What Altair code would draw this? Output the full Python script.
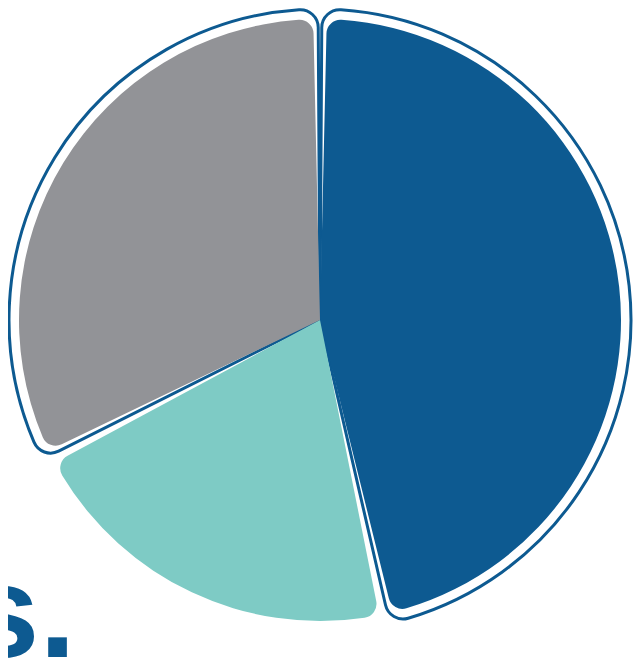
import altair as alt
import pandas as pd

categories = ["A", "B", "C"]
values = [46.5, 21.0, 32.5]
colors = ["#0d5a91", "#7ecbc5", "#929397"]
outlined = [1, 0, 1]
label_text = ["s."]

df = pd.DataFrame({"cat": categories, "value": values, "order": [0, 1, 2], "outlined": outlined})

cx, cy = 312, 312

base = alt.Chart(df).encode(
    theta=alt.Theta("value:Q", stack=True),
    order=alt.Order("order:Q"),
    x=alt.value(cx),
    y=alt.value(cy),
)

slices = base.mark_arc(outerRadius=301, cornerRadius=14, padAngle=0.045).encode(
    color=alt.Color("cat:N", scale=alt.Scale(domain=categories, range=colors), legend=None)
)

outline = base.mark_arc(outerRadius=311, innerRadius=0, cornerRadius=18, padAngle=0.012,
                        fill=None, filled=False, stroke="#0d5a91", strokeWidth=3).encode(
    strokeOpacity=alt.condition("datum.outlined == 1", alt.value(1), alt.value(0))
)

txt = alt.Chart(pd.DataFrame({"t": label_text})).mark_text(
    font="Liberation Sans", fontWeight="bold", fontSize=132, color="#0d5a91",
    align="right", baseline="alphabetic"
).encode(text="t:N", x=alt.value(68), y=alt.value(649))

chart = alt.layer(outline, slices, txt).properties(
    width=627, height=654, padding=0,
    autosize=alt.AutoSizeParams(type="none")
).configure_view(stroke=None)

chart.save("out.html", embed_options={"renderer": "svg", "actions": False})
